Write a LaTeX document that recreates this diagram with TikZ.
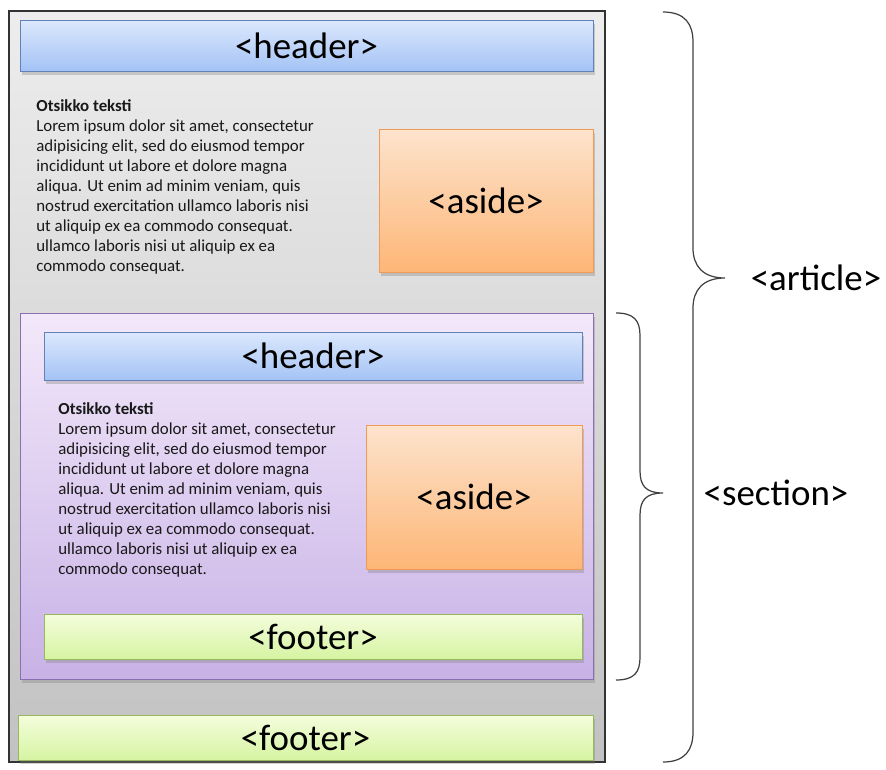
\documentclass[tikz,border=0pt]{standalone}
\usepackage{fontspec}
\setmainfont{Carlito}
\usetikzlibrary{shadows}
\definecolor{hdrtop}{HTML}{DCE8FD}
\definecolor{hdrbot}{HTML}{A4C3F5}
\definecolor{hdrline}{HTML}{6281B8}
\definecolor{astop}{HTML}{FDE3CD}
\definecolor{asbot}{HTML}{FDB676}
\definecolor{asline}{HTML}{F09A55}
\definecolor{fttop}{HTML}{F4FDDC}
\definecolor{ftbot}{HTML}{D6F4A2}
\definecolor{ftline}{HTML}{98B860}
\definecolor{sectop}{HTML}{F3E8FA}
\definecolor{secbot}{HTML}{C8B2E6}
\definecolor{secline}{HTML}{8A70B0}
\tikzstyle{boxshadow}=[drop shadow={shadow xshift=1pt,shadow yshift=-2pt,opacity=0.35}]
\tikzstyle{tag}=[font=\fontsize{21}{25}\selectfont,inner sep=0pt]
\tikzstyle{header}=[tag,shape=rectangle,draw=hdrline,top color=hdrtop,bottom color=hdrbot,boxshadow]
\tikzstyle{aside}=[tag,shape=rectangle,draw=asline,top color=astop,bottom color=asbot,boxshadow]
\tikzstyle{footer}=[tag,shape=rectangle,draw=ftline,top color=fttop,bottom color=ftbot,boxshadow]
\tikzstyle{body}=[font=\fontsize{9.6}{11.4}\selectfont,align=left,anchor=west,inner sep=0pt,text=black!90]
\tikzstyle{bracket}=[draw=black!75,line width=0.7pt]

\newcommand{\loremtext}{\textbf{Otsikko teksti}\\
Lorem ipsum dolor sit amet, consectetur\\
adipisicing elit, sed do eiusmod tempor\\
incididunt ut labore et dolore magna\\
aliqua. Ut enim ad minim veniam, quis\\
nostrud exercitation ullamco laboris nisi\\
ut aliquip ex ea commodo consequat.\\
ullamco laboris nisi ut aliquip ex ea\\
commodo consequat.}

\begin{document}
\begin{tikzpicture}[]
\useasboundingbox (0,0) rectangle (17.72,-15.38);
% article
\node[shape=rectangle,draw=black!80,line width=0.8pt,top color=black!7,bottom color=black!24,
  minimum width=11.92cm,minimum height=15.02cm] (article) at (6.14,-7.73) {};
\node[header,minimum width=11.46cm,minimum height=1.02cm] (hdr1) at (6.13,-0.91) {<header>};
\node[body] (txt1) at (0.72,-3.74) {\loremtext};
\node[aside,minimum width=4.28cm,minimum height=2.86cm] (aside1) at (9.72,-4.01) {<aside>};
% section
\node[shape=rectangle,draw=secline,top color=sectop,bottom color=secbot,boxshadow,
  minimum width=11.46cm,minimum height=7.32cm] (section) at (6.13,-9.92) {};
\node[header,minimum width=10.76cm,minimum height=0.96cm] (hdr2) at (6.26,-7.12) {<header>};
\node[body] (txt2) at (1.16,-9.80) {\loremtext};
\node[aside,minimum width=4.32cm,minimum height=2.88cm] (aside2) at (9.48,-9.94) {<aside>};
\node[footer,minimum width=10.76cm,minimum height=0.90cm] (ftr2) at (6.26,-12.73) {<footer>};
\node[footer,minimum width=11.50cm,minimum height=0.90cm] (ftr1) at (6.11,-14.75) {<footer>};
% braces
\coordinate (atop) at (13.26,-0.24);
\coordinate (stop) at (12.32,-6.26);
\draw[bracket] (atop) .. controls +(0.45,0) and +(0,0.35) .. ++(0.6,-0.6)
  -- ++(0,-4.12) .. controls +(0,-0.35) and +(-0.45,0) .. ++(0.64,-0.6)
  .. controls +(-0.45,0) and +(0,0.35) .. ++(-0.64,-0.6)
  -- ++(0,-8.48) .. controls +(0,-0.35) and +(0.45,0) .. ++(-0.6,-0.6);
\draw[bracket] (stop) .. controls +(0.36,0) and +(0,0.3) .. ++(0.48,-0.45)
  -- ++(0,-2.70) .. controls +(0,-0.3) and +(-0.35,0) .. ++(0.46,-0.45)
  .. controls +(-0.35,0) and +(0,0.3) .. ++(-0.46,-0.45)
  -- ++(0,-2.84) .. controls +(0,-0.3) and +(0.36,0) .. ++(-0.48,-0.45);
\node[tag] (artlabel) at (16.32,-5.56) {<article>};
\node[tag] (seclabel) at (15.52,-9.86) {<section>};
\end{tikzpicture}
\end{document}
